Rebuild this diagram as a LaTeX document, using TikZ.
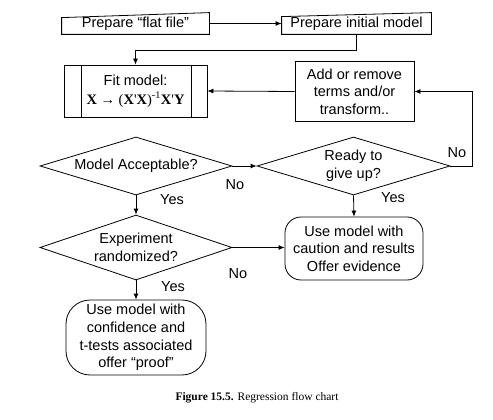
\documentclass[tikz,border=0pt]{standalone}
\usepackage{fontspec}
\setmainfont{Liberation Sans}
\newfontfamily\serifcap{Liberation Serif}
\usetikzlibrary{arrows.meta, shapes.geometric}

\tikzset{
  inputbox/.style={inner sep=0pt, minimum height=21pt},
  procbox/.style={draw, inner sep=0pt, align=center, minimum width=143pt, minimum height=52pt},
  plainbox/.style={draw, inner sep=0pt, align=center, minimum width=119pt, minimum height=60pt},
  decision/.style={diamond, draw, aspect=3.3, inner sep=0pt, align=center, minimum width=192pt, minimum height=58pt},
  endbox/.style={draw, inner sep=0pt, align=center, rounded corners=#1},
  answer/.style={inner sep=1pt}
}

\begin{document}
\begin{tikzpicture}[x=1pt, y=1pt, line width=0.8pt,
    font=\fontsize{14.5}{17.6}\selectfont, >={Latex[length=6pt,width=5pt]}]
  \useasboundingbox (0,0) rectangle (493,-420);

  % manual input boxes
  \node[inputbox, minimum width=147pt] (flat) at (135.5,-23.5) {Prepare “flat file”};
  \draw (flat.south west) -- (flat.south east) -- (flat.north east) -- ([yshift=-5pt]flat.north west) -- cycle;
  \node[inputbox, minimum width=149pt] (init) at (356.5,-23.5) {Prepare initial model};
  \draw (init.south west) -- (init.south east) -- (init.north east) -- ([yshift=-4pt]init.north west) -- cycle;

  % fit and modify
  \node[procbox] (fit) at (135.5,-91) {Fit model:\\[1pt]
    {\serifcap\textbf{X} → (\textbf{X}'\textbf{X})\textsuperscript{-1}\textbf{X}'\textbf{Y}}};
  \draw ([xshift=18pt]fit.north west) -- ([xshift=18pt]fit.south west);
  \draw ([xshift=-16pt]fit.north east) -- ([xshift=-16pt]fit.south east);
  \node[plainbox] (modify) at (354.5,-91.5) {Add or remove\\ terms and/or\\ transform..};

  % decisions
  \node[decision] (accept) at (136,-166) {Model Acceptable?};
  \node[decision, minimum width=193pt] (giveup) at (353.5,-166) {Ready to\\ give up?};
  \node[decision, minimum height=65pt] (random) at (136,-247.5) {Experiment\\ randomized?};

  % outcomes
  \node[endbox=16pt, minimum width=138pt, minimum height=63pt] (caution) at (354,-248.5)
    {Use model with\\ caution and results\\ Offer evidence};
  \node[endbox=24pt, minimum width=140pt, minimum height=75pt] (confid) at (136,-337.5)
    {Use model with\\ confidence and\\ t-tests associated\\ offer “proof”};

  % connectors
  \draw[->] (flat.east) -- (init.west);
  \draw[->] (init.south) -- ++(0,-16) -| (fit.north);
  \draw[->] (modify.west) -- (fit.east);
  \draw[->] (accept.east) -- (giveup.west);
  \draw[->] (giveup.east) -- ++(22,0) |- (modify.east);
  \draw[->] (accept.south) -- (random.north);
  \draw[->] (giveup.south) -- (caution.north);
  \draw[->] (random.east) -- (caution.west |- random.east);
  \draw[->] (random.south) -- (confid.north);

  % answers
  \node[answer] (no1) at (235,-185) {No};
  \node[answer] (no2) at (457,-153) {No};
  \node[answer] (no3) at (238,-274) {No};
  \node[answer] (yes1) at (172,-200) {Yes};
  \node[answer] (yes2) at (393,-198) {Yes};
  \node[answer] (yes3) at (173,-287) {Yes};

  \node (caption) at (257,-398) {\serifcap\fontsize{11.5}{13}\selectfont\textbf{Figure 15.5.} Regression flow chart};
\end{tikzpicture}
\end{document}
